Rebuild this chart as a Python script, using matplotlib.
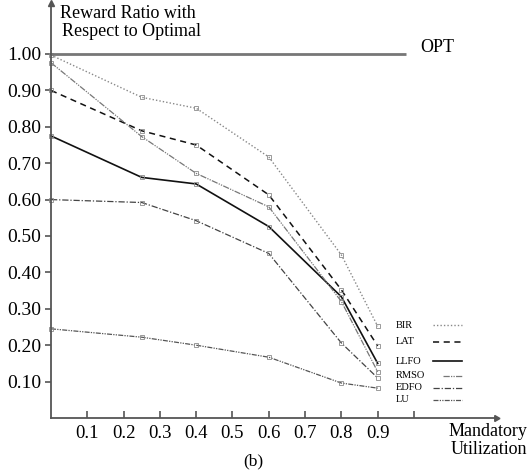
import matplotlib
matplotlib.use("Agg")
import matplotlib.pyplot as plt
from matplotlib.lines import Line2D

plt.rcParams['font.family'] = ['Liberation Serif', 'DejaVu Serif']

x_vals = [0.0, 0.25, 0.4, 0.6, 0.8, 0.9]
series_names = ["BIR", "LAT", "LLFO", "RMSO", "EDFO", "LU"]
bir = [0.997, 0.881, 0.851, 0.717, 0.448, 0.252]
lat = [0.900, 0.789, 0.750, 0.613, 0.352, 0.198]
llfo = [0.775, 0.661, 0.643, 0.526, 0.333, 0.150]
rmso = [0.976, 0.773, 0.672, 0.580, 0.320, 0.127]
edfo = [0.600, 0.592, 0.542, 0.452, 0.206, 0.110]
lu = [0.245, 0.222, 0.200, 0.167, 0.096, 0.082]
opt_value = 1.0

y_ticks = [0.1, 0.2, 0.3, 0.4, 0.5, 0.6, 0.7, 0.8, 0.9, 1.0]
y_tick_labels = ["0.10", "0.20", "0.30", "0.40", "0.50", "0.60", "0.70", "0.80", "0.90", "1.00"]
x_ticks = [0.1, 0.2, 0.3, 0.4, 0.5, 0.6, 0.7, 0.8, 0.9, 1.0]
x_tick_labels = ["0.1", "0.2", "0.3", "0.4", "0.5", "0.6", "0.7", "0.8", "0.9", ""]

W, H = 532, 470
fig = plt.figure(figsize=(W / 100, H / 100), dpi=100)
# axes: x=0 at px 51, 363 px per unit; y=0 at px 418, 364 px per unit
xmax, ymax = 1.225, 1.14
ax = fig.add_axes([51 / W, (H - 418) / H, xmax * 363 / W, ymax * 364 / H])
ax.set_xlim(0, xmax)
ax.set_ylim(0, ymax)

axis_col = '#555555'
for s in ['top', 'right']:
    ax.spines[s].set_visible(False)
for s in ['left', 'bottom']:
    ax.spines[s].set_color(axis_col)
    ax.spines[s].set_linewidth(1.3)
# arrow heads
ax.plot(1, 0, marker=(3, 0, -90), color=axis_col, markersize=5,
        transform=ax.transAxes, clip_on=False)
ax.plot(0, 1, marker='^', color=axis_col, markersize=4,
        transform=ax.transAxes, clip_on=False)

ax.set_yticks(y_ticks)
ax.set_yticklabels(y_tick_labels, fontsize=14)
ax.set_xticks(x_ticks)
ax.set_xticklabels(x_tick_labels, fontsize=13.5)
ax.tick_params(axis='y', direction='out', length=4, width=1.2, color=axis_col, pad=3)
ax.tick_params(axis='x', direction='in', length=5, width=1.2, color=axis_col, pad=5)

styles = {
    "BIR": dict(color='#888888', linestyle=(0, (1, 1.5)), linewidth=1.0),
    "LAT": dict(color='#111111', linestyle=(0, (4, 3)), linewidth=1.1),
    "LLFO": dict(color='#111111', linestyle='-', linewidth=1.2),
    "RMSO": dict(color='#777777', linestyle=(0, (5, 1, 1, 1, 1, 1)), linewidth=0.9),
    "EDFO": dict(color='#444444', linestyle=(0, (5, 1.5, 1, 1.5)), linewidth=0.9),
    "LU": dict(color='#555555', linestyle=(0, (4, 1, 1, 1, 1, 1)), linewidth=0.9),
}
data = {"BIR": bir, "LAT": lat, "LLFO": llfo, "RMSO": rmso, "EDFO": edfo, "LU": lu}

for name in series_names:
    st = styles[name]
    ax.plot(x_vals, data[name], marker='s', markersize=3, markerfacecolor='none',
            markeredgecolor='#8a8a8a', markeredgewidth=0.6, clip_on=False, **st)

# OPT line
ax.plot([0, 0.977], [opt_value, opt_value], color='#777777', linewidth=2.0, solid_capstyle='butt')
fig.text(420 / W, 1 - 47 / H, "OPT", fontsize=13, va='center', ha='left')

# titles
fig.text(60 / W, 1 - 14 / H, "Reward Ratio with", fontsize=13, va='center', ha='left')
fig.text(62 / W, 1 - 32 / H, "Respect to Optimal", fontsize=13, va='center', ha='left')
fig.text(527 / W, 1 - 431 / H, "Mandatory", fontsize=13, va='center', ha='right')
fig.text(527 / W, 1 - 449 / H, "Utilization", fontsize=13, va='center', ha='right')
fig.text(253 / W, 1 - 461 / H, "(b)", fontsize=12.5, va='center', ha='center')

# legend (manual)
leg_y = [325, 342, 361, 376, 388, 400]
leg_x0 = [433, 433, 433, 443, 433, 433]
for name, yy, x0 in zip(series_names, leg_y, leg_x0):
    fig.text(396 / W, 1 - yy / H, name, fontsize=7.5, va='center', ha='left')
    st = dict(styles[name])
    fig.add_artist(Line2D([x0 / W, 462 / W], [1 - yy / H, 1 - yy / H],
                          transform=fig.transFigure, **st))

fig.savefig("out.png", dpi=100)
